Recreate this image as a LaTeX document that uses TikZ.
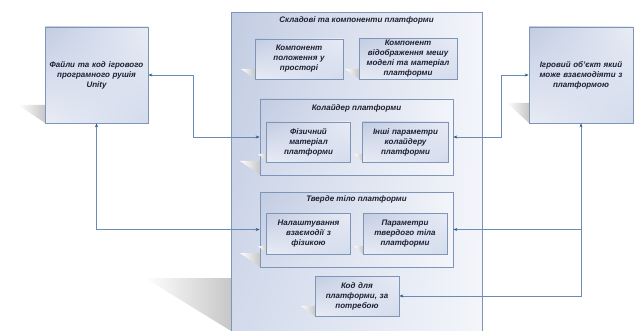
\documentclass[tikz,border=0pt]{standalone}
\usepackage{fontspec}
\setmainfont{Liberation Sans}
\usetikzlibrary{arrows.meta,calc,shadings}

\definecolor{edgeblue}{HTML}{7E95B8}
\definecolor{wireblue}{HTML}{6A8CB3}
\definecolor{tipblue}{HTML}{2F5D8C}
\definecolor{inkdark}{HTML}{1C2033}
\definecolor{fillA}{HTML}{C2CCE2}
\definecolor{fillB}{HTML}{E8ECF5}
\definecolor{fillC}{HTML}{D3DBEC}
\definecolor{fillD}{HTML}{F3F5FA}

\tikzset{
  card/.style={draw=edgeblue, line width=0.7pt, shade,
    upper left=fillA, upper right=fillB, lower left=fillB, lower right=fillC,
    font=\fontsize{8}{10}\selectfont\bfseries\itshape, text=inkdark,
    align=center, inner sep=2pt},
  groupbox/.style={draw=edgeblue, line width=0.7pt, shade,
    upper left=fillA, upper right=fillD, lower left=fillC, lower right=fillD},
  caption/.style={font=\fontsize{8}{10}\selectfont\bfseries\itshape, text=inkdark},
  wire/.style={draw=wireblue, line width=0.6pt},
  >={Stealth[length=4pt,width=3pt,color=tipblue]}
}

% soft wedge cast to the lower left of a box whose lower left corner is (#1,#2)
\newcommand{\castshadow}[4]{%
  \shade[left color=white, right color=black!22]
    (#1-#3,#2-#4) -- (#1,#2-#4) -- (#1,#2) -- cycle;}

\begin{document}
\begin{tikzpicture}[x=1pt, y=-1pt]
\useasboundingbox (0,0) rectangle (639,331);
\clip (0,0) rectangle (639,331);

% shadows of the outer boxes
\castshadow{45}{123}{27}{18}
\castshadow{529}{123}{22}{20}
\castshadow{231}{331}{86}{53}

% outer boxes
\node[card, minimum width=103pt, minimum height=96pt, text width=98pt]
  (engine) at (96.5,75) {Файли та код ігрового\\програмного рушія\\Unity};
\node[card, minimum width=104pt, minimum height=96pt, text width=98pt]
  (gameobj) at (581,75) {Ігровий об'єкт який\\може взаємодіяти з\\платформою};

% platform container
\node[groupbox, minimum width=251pt, minimum height=340pt, anchor=north]
  (platform) at (356.5,12) {};
\node[caption] (platformtitle) at (356.5,20.5) {Складові та компоненти платформи};

\castshadow{255}{79}{14}{10}
\castshadow{359}{79}{14}{10}
\castshadow{260}{175}{20}{14}
\castshadow{260}{267}{20}{14}
\castshadow{315}{316}{14}{10}

\node[card, minimum width=88pt, minimum height=40pt, text width=84pt]
  (position) at (299,59) {Компонент\\положення у\\просторі};
\node[card, minimum width=98pt, minimum height=40pt, text width=94pt]
  (mesh) at (408,59) {Компонент\\відображення мешу\\моделі та матеріал\\платформи};

% collider group
\node[groupbox, minimum width=193pt, minimum height=76pt] (collider) at (356.5,137) {};
\node[caption] (collidertitle) at (356.5,108) {Колайдер платформи};
\castshadow{267}{162}{9}{8}
\castshadow{363}{162}{9}{8}
\node[card, minimum width=83pt, minimum height=40pt, text width=80pt]
  (physmat) at (308.5,142) {Фізичний\\матеріал\\платформи};
\node[card, minimum width=85pt, minimum height=40pt, text width=82pt]
  (colparams) at (405.5,142) {Інші параметри\\колайдеру\\платформи};

% rigidbody group
\node[groupbox, minimum width=193pt, minimum height=75pt] (rigid) at (356.5,229.5) {};
\node[caption] (rigidtitle) at (356.5,199.5) {Тверде тіло платформи};
\castshadow{267}{254}{9}{8}
\castshadow{363}{254}{9}{8}
\node[card, minimum width=83pt, minimum height=41pt, text width=80pt]
  (physics) at (308.5,233.5) {Налаштування\\взаємодії з\\фізикою};
\node[card, minimum width=84pt, minimum height=41pt, text width=80pt]
  (rbparams) at (405,233.5) {Параметри\\твердого тіла\\платформи};

\node[card, minimum width=84pt, minimum height=40pt, text width=80pt]
  (code) at (357,296) {Код для\\платформи, за\\потребою};

% connectors
\draw[wire, <->] (engine.east) -- ++(45,0) |- (collider.west);
\draw[wire, <->] (engine.south) |- (rigid.west);
\draw[wire, <->] (gameobj.west) -- ++(-27,0) |- (collider.east);
\draw[wire, <->] (gameobj.south) |- (code.east);
\draw[wire, ->] (gameobj.south |- rigid.east) -- (rigid.east);
\end{tikzpicture}
\end{document}
